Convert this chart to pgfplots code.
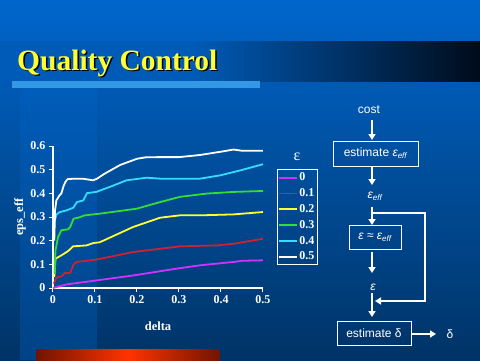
\documentclass[border=0pt]{standalone}
\usepackage{pgfplots}
\pgfplotsset{compat=1.18}
\usepackage{fontspec}
\setmainfont{Liberation Serif}
\newfontfamily\arial{Liberation Sans}
\usetikzlibrary{arrows.meta}
\definecolor{bgtop}{HTML}{0066CC}
\definecolor{bgbot}{HTML}{003366}
\definecolor{bandL}{HTML}{005BB8}
\definecolor{bandR}{HTML}{000B1A}
\definecolor{cyanbar}{HTML}{3399E6}
\definecolor{rdark}{HTML}{701400}
\definecolor{rbright}{HTML}{FF3300}
\definecolor{titleyellow}{HTML}{FFFF33}
\definecolor{cmag}{HTML}{CC33FF}
\definecolor{cred}{HTML}{CC2233}
\definecolor{cyel}{HTML}{FFFF33}
\definecolor{cgrn}{HTML}{33DD33}
\definecolor{ccyan}{HTML}{33DDFF}
\pgfdeclarehorizontalshading{band}{100bp}{color(0bp)=(bandL); color(45bp)=(bandL); color(75bp)=(bandR); color(100bp)=(bandR)}
\begin{document}
\begin{tikzpicture}[x=1pt,y=1pt]
\shade[top color=bgtop, bottom color=bgbot] (0,0) rectangle (480,360);
\fill[bgtop, opacity=0.3] (20,0) rectangle (97,272);
\shade[shading=band] (0,279) rectangle (480,319);
\fill[cyanbar] (12,272) rectangle (260,279);
\shade[left color=rdark, right color=rdark, middle color=rbright] (36,0) rectangle (220,11);
\node[anchor=base west, inner sep=0, text=black] at (18.5,288.5) {\fontsize{29.5}{29.5}\selectfont\bfseries Quality Control};
\node[anchor=base west, inner sep=0, text=titleyellow] at (17,290) {\fontsize{29.5}{29.5}\selectfont\bfseries Quality Control};
\begin{axis}[at={(53pt,72pt)}, anchor=south west, width=210pt, height=142pt, scale only axis,
  xmin=0, xmax=0.5, ymin=0, ymax=0.6, clip=false,
  axis lines*=left, axis line style={white, line width=1.2pt},
  xtick={0,0.1,0.2,0.3,0.4,0.5}, ytick={0,0.1,0.2,0.3,0.4,0.5,0.6},
  tick align=outside, major tick length=4pt, tick style={white, line width=1pt},
  ticklabel style={text=white, font=\bfseries\fontsize{12}{12}\selectfont},
  /pgf/number format/assume math mode=true,
  xlabel={delta}, ylabel={eps\_eff},
  label style={text=white, font=\bfseries\fontsize{12.5}{12.5}\selectfont},
  xlabel style={at={(axis description cs:0.5,-0.268)}, anchor=center},
  ylabel style={at={(axis description cs:-0.157,0.5)}, anchor=center},
  legend style={at={(axis description cs:1.067,0.838)}, anchor=north west, draw=white, fill=none, text=white,
    font=\bfseries\fontsize{12}{12}\selectfont, inner xsep=1pt, inner ysep=1.5pt, row sep=2.3pt, line width=1pt},
  legend cell align=left,
  every axis plot/.append style={line width=1.8pt, line join=round},
]
\addplot[cmag] coordinates {(0,0)(0.032,0.015)(0.103,0.032)(0.191,0.053)(0.295,0.082)(0.35,0.096)(0.43,0.11)(0.45,0.115)(0.5,0.117)};
\addlegendentry{0}
\addplot[cred] coordinates {(0.002,0.018)(0.008,0.044)(0.02,0.049)(0.028,0.063)(0.041,0.063)(0.048,0.096)(0.056,0.11)(0.103,0.12)(0.191,0.152)(0.302,0.176)(0.39,0.18)(0.43,0.187)(0.5,0.208)};
\addlegendentry{0.1}
\addplot[cyel] coordinates {(0.003,0.046)(0.006,0.124)(0.02,0.138)(0.036,0.156)(0.048,0.176)(0.08,0.18)(0.096,0.19)(0.111,0.193)(0.191,0.258)(0.255,0.297)(0.302,0.307)(0.35,0.307)(0.43,0.311)(0.5,0.321)};
\addlegendentry{0.2}
\addplot[cgrn] coordinates {(0.004,0.06)(0.006,0.16)(0.012,0.215)(0.02,0.244)(0.036,0.248)(0.041,0.258)(0.049,0.293)(0.06,0.297)(0.076,0.307)(0.111,0.314)(0.199,0.335)(0.255,0.363)(0.302,0.385)(0.366,0.399)(0.43,0.406)(0.5,0.41)};
\addlegendentry{0.3}
\addplot[ccyan] coordinates {(0.004,0.28)(0.008,0.31)(0.015,0.32)(0.032,0.328)(0.048,0.339)(0.057,0.363)(0.072,0.37)(0.081,0.401)(0.103,0.406)(0.135,0.427)(0.175,0.455)(0.223,0.466)(0.255,0.462)(0.35,0.462)(0.398,0.476)(0.446,0.497)(0.5,0.523)};
\addlegendentry{0.4}
\addplot[white] coordinates {(0.003,0.20)(0.005,0.33)(0.008,0.37)(0.015,0.39)(0.02,0.40)(0.025,0.43)(0.03,0.45)(0.035,0.46)(0.05,0.462)(0.07,0.462)(0.085,0.458)(0.095,0.455)(0.105,0.462)(0.12,0.48)(0.14,0.50)(0.16,0.52)(0.18,0.533)(0.2,0.546)(0.22,0.552)(0.25,0.553)(0.3,0.553)(0.35,0.562)(0.4,0.576)(0.43,0.585)(0.45,0.58)(0.5,0.58)};
\addlegendentry{0.5}
\end{axis}
\node[text=white, font=\fontsize{16}{16}\selectfont] at (297,203) {ε};
% flowchart
\begin{scope}[white, line width=1.6pt, font=\arial\fontsize{12}{12}\selectfont, >={Triangle[width=7pt,length=6pt]}]
\node[text=white] at (369,250) {cost};
\draw[->] (372,240) -- (372,220);
\node[draw, line width=0.8pt, text=white, minimum width=85pt, minimum height=25pt, inner sep=1pt] at (375.5,206.5) {estimate {\itshape ε}\textsubscript{\itshape eff}};
\draw[->] (372,193) -- (372,175);
\node[text=white] at (375,164) {{\itshape ε}\textsubscript{\itshape eff}};
\draw[->] (372,153) -- (372,135);
\draw[->] (372,147) -- (425,147) -- (425,59) -- (375,59);
\node[draw, line width=0.8pt, text=white, minimum width=52pt, minimum height=24pt, inner sep=1pt] at (375,123) {{\itshape ε} ≈ {\itshape ε}\textsubscript{\itshape eff}};
\draw[->] (372,108) -- (372,87);
\node[text=white] at (373,73) {\itshape ε};
\draw[->] (372,67) -- (372,43);
\node[draw, line width=0.8pt, text=white, minimum width=74pt, minimum height=24pt, inner sep=1pt] at (374,27) {estimate δ};
\draw[->] (411,26) -- (436,26);
\node[text=white] at (450,26) {δ};
\end{scope}
\end{tikzpicture}
\end{document}
